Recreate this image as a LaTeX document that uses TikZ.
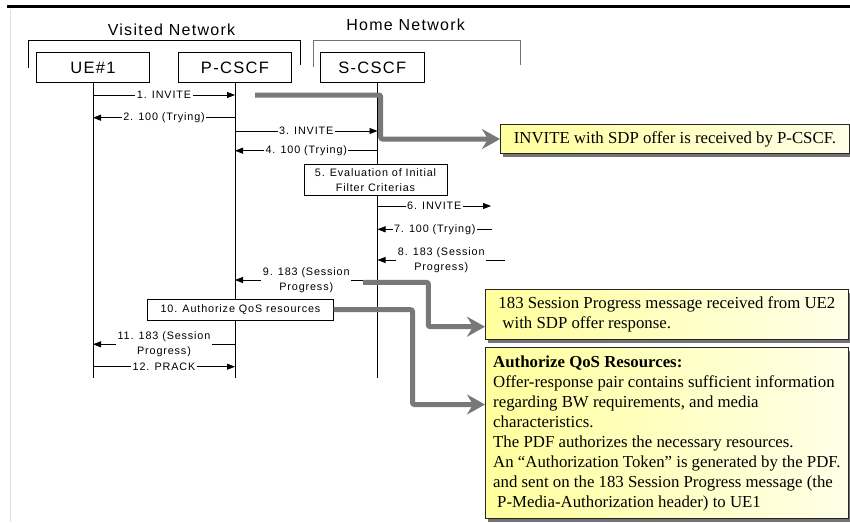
\documentclass[tikz,border=0pt]{standalone}
\usepackage{fontspec}
\setmainfont{Liberation Serif}
\newfontfamily\lblfont[LetterSpace=8]{Liberation Sans}
\usetikzlibrary{arrows.meta,shadows,positioning}
\definecolor{notefill}{HTML}{FFFF9C}
\definecolor{notefade}{HTML}{FFFFE8}
\definecolor{ptrgray}{HTML}{787878}
\tikzset{entity/.style = {draw, minimum height=30.4, font=\lblfont\fontsize{16.5}{18}\selectfont}}
\tikzset{msg/.style = {-{Triangle[length=8pt,width=6pt]}}}
\tikzset{lbl/.style = {fill=white, inner sep=1.5pt, align=center, font=\lblfont\fontsize{10.8}{14.5}\selectfont}}
\tikzset{action/.style = {draw, fill=white, align=center, inner sep=2pt, font=\lblfont\fontsize{10.8}{14.5}\selectfont}}
\tikzset{note/.style = {draw=black!85, anchor=north west, align=left, left color=notefill, right color=notefade,
                        drop shadow={shadow xshift=3pt, shadow yshift=-3pt, fill=black!55, opacity=1},
                        font=\fontsize{16.8}{20}\selectfont}}
\tikzset{pointer/.style = {ptrgray, line width=5pt, rounded corners=2pt, -{Stealth[length=18pt,width=20pt,inset=6pt]}}}

\begin{document}
\begin{tikzpicture}[x=1pt, y=-1pt, line width=.8pt]
      \fill [white] (0,0) rectangle (850,522);
      \useasboundingbox (0,0) rectangle (850,522);
      \draw [line width=2.5pt] (7,6.5) -- (850,6.5);
      \draw [black!12] (10,10) -- (10,522);
      \node (visited) at (171.5,29.5) [font=\lblfont\fontsize{16}{18}\selectfont] {Visited Network};
      \node (home) at (405.6,25) [font=\lblfont\fontsize{16}{18}\selectfont] {Home Network};
      \draw (28.7,67.6) |- (300,40.6) -- (300,65);
      \draw [black!55] (313.7,67) |- (520.5,40.6) -- (520.5,65);
      \node (ue) at (93,67.6) [entity, minimum width=113] {UE\#1};
      \node (pcscf) at (235,67.6) [entity, minimum width=113] {P-CSCF};
      \node (scscf) at (372.3,67.6) [entity, minimum width=104] {S-CSCF};
      \coordinate (sline) at (377.5,82.8);
      \draw (ue) -- (93,378);
      \draw (pcscf) -- (235,378);
      \draw (sline) -- (377.5,378);
      \draw [msg] (ue |- 0,95) -- node [lbl] {1. INVITE} (pcscf |- 0,95);
      \draw [msg] (pcscf |- 0,117.7) -- node [lbl] {2. 100 (Trying)} (ue |- 0,117.7);
      \draw [msg] (pcscf |- 0,131) -- node [lbl] {3. INVITE} (sline |- 0,131);
      \draw [msg] (sline |- 0,150.7) -- node [lbl] {4. 100 (Trying)} (pcscf |- 0,150.7);
      \node (eval) at (375.5,180) [action, minimum width=143, minimum height=31.7] {5. Evaluation of Initial\\Filter Criterias};
      \coordinate (out6) at (491,206);
      \coordinate (in7) at (492,229.3);
      \coordinate (in8) at (505,260);
      \draw [msg] (sline |- out6) -- node [lbl] {6. INVITE} (out6);
      \draw [msg] (in7) -- node [lbl] {7. 100 (Trying)} (sline |- in7);
      \draw [msg] (in8) -- node [lbl] {8. 183 (Session\\Progress)} (sline |- in8);
      \draw [msg] (sline |- 0,280) -- node [lbl] {9. 183 (Session\\Progress)} (pcscf |- 0,280);
      \node (authz) at (240.5,309.7) [action, minimum width=185.6, minimum height=20.7] {10. Authorize QoS resources};
      \draw [msg] (pcscf |- 0,344.3) -- node [lbl] {11. 183 (Session\\Progress)} (ue |- 0,344.3);
      \draw [msg] (ue |- 0,366.7) -- node [lbl] {12. PRACK} (pcscf |- 0,366.7);
      \node (invnote) at (500,124) [note, minimum width=349, minimum height=29.3] {INVITE with SDP offer is received by P-CSCF.};
      \node (prognote) at (485,289.3) [note, minimum width=363, minimum height=50] {183 Session Progress message received from UE2\\\hspace*{4pt}with SDP offer response.};
      \node (qosnote) at (485,347.3) [note, minimum width=363, minimum height=171] {\textbf{Authorize QoS Resources:}\\
        Offer-response pair contains sufficient information\\
        regarding BW requirements, and media\\
        characteristics.\\
        The PDF authorizes the necessary resources.\\
        An “Authorization Token” is generated by the PDF.\\
        and sent on the 183 Session Progress message (the\\
        \hspace*{4pt}P-Media-Authorization header) to UE1};
      \coordinate (inv) at (255,95);
      \coordinate (prog) at (363,282.3);
      \draw [pointer] (inv) -- (380.7,95) |- (invnote.west);
      \draw [pointer] (prog) -- (428.3,282.3) |- (prognote.west |- 0,326.7);
      \draw [pointer] (authz.east) -- (412.5,309.7) |- (qosnote.west |- 0,404.5);
    \end{tikzpicture}
\end{document}
